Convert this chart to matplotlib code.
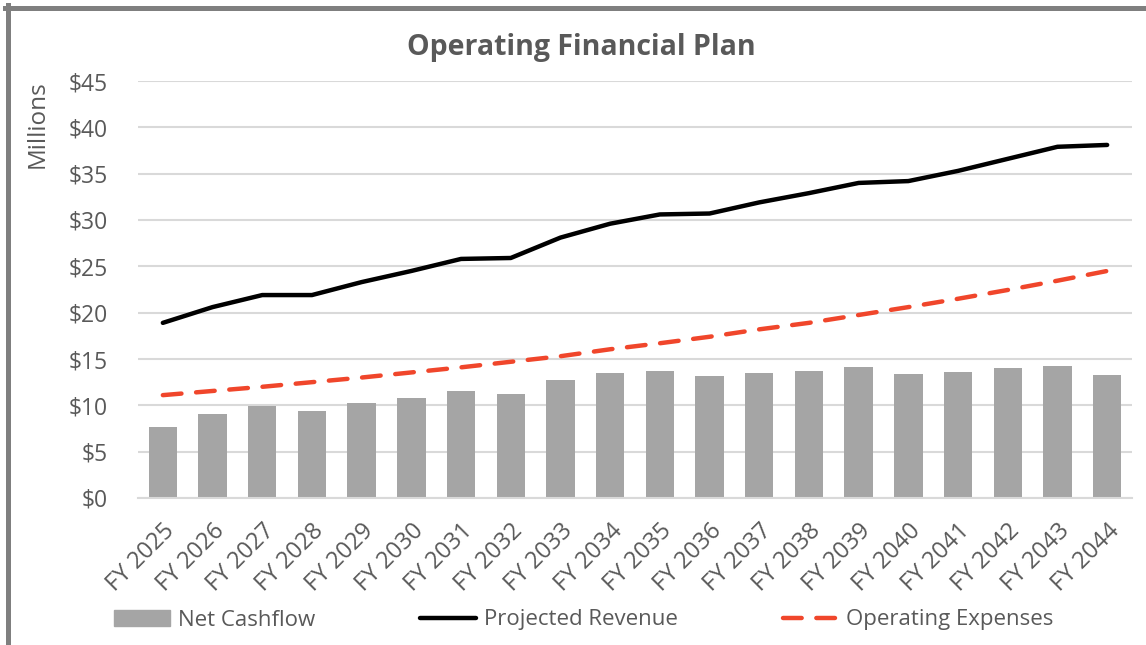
import matplotlib
matplotlib.use("Agg")
import matplotlib.pyplot as plt
from matplotlib.patches import Rectangle
from matplotlib.lines import Line2D

plt.rcParams['font.family'] = ['Open Sans', 'DejaVu Sans']

categories = ["FY 2025", "FY 2026", "FY 2027", "FY 2028", "FY 2029", "FY 2030", "FY 2031",
              "FY 2032", "FY 2033", "FY 2034", "FY 2035", "FY 2036", "FY 2037", "FY 2038",
              "FY 2039", "FY 2040", "FY 2041", "FY 2042", "FY 2043", "FY 2044"]
net_cashflow = [7.7, 9.1, 9.9, 9.4, 10.2, 10.8, 11.6, 11.2, 12.7, 13.5,
                13.7, 13.2, 13.5, 13.7, 14.1, 13.4, 13.6, 14.0, 14.2, 13.3]
projected_revenue = [18.9, 20.6, 21.9, 21.9, 23.3, 24.5, 25.8, 25.9, 28.1, 29.6,
                     30.6, 30.7, 31.9, 32.9, 34.0, 34.2, 35.3, 36.6, 37.9, 38.1]
operating_expenses = [11.1, 11.55, 12.0, 12.5, 13.0, 13.55, 14.1, 14.7, 15.3, 16.05,
                      16.7, 17.4, 18.2, 18.9, 19.75, 20.6, 21.5, 22.45, 23.45, 24.5]
yticks = [0, 5, 10, 15, 20, 25, 30, 35, 40, 45]
ytick_labels = ["$0", "$5", "$10", "$15", "$20", "$25", "$30", "$35", "$40", "$45"]

TXT = '#595959'
DASH = (4.2, 3.3)
fig = plt.figure(figsize=(11.46, 6.45), dpi=100)
ax = fig.add_axes([138/1146, 1-498/645, (1132-138)/1146, (498-81)/645])

x = list(range(len(categories)))
ax.bar(x, net_cashflow, width=0.57, color='#a5a5a5', zorder=2, label='Net Cashflow')
ax.plot(x, projected_revenue, color='black', lw=3.2, solid_capstyle='round',
        zorder=3, label='Projected Revenue')
ax.plot(x, operating_expenses, color='#f0462b', lw=3.2, dashes=DASH,
        dash_capstyle='round', zorder=3, label='Operating Expenses')

ax.set_xlim(-0.5, len(categories)-0.5)
ax.set_ylim(0, 45)
ax.set_yticks(yticks)
ax.set_yticklabels(ytick_labels)
ax.set_xticks(x)
ax.set_xticklabels(categories, rotation=45, ha='right', rotation_mode='anchor')
ax.tick_params(axis='y', length=0, pad=22, labelsize=16.5, labelcolor=TXT)
ax.tick_params(axis='x', length=0, pad=15, labelsize=17, labelcolor=TXT)
ax.grid(axis='y', color='#d9d9d9', lw=1.5, zorder=0)
ax.set_axisbelow(True)
for s in ['top', 'right', 'left']:
    ax.spines[s].set_visible(False)
ax.spines['bottom'].set_color('#d9d9d9')
ax.spines['bottom'].set_linewidth(1.5)

fig.text(581/1146, 1-47/645, "Operating Financial Plan", ha='center', va='center',
         fontsize=20.5, fontweight='bold', color=TXT)
fig.text(38/1146, 1-124/645, "Millions", rotation=90, ha='center', va='center',
         fontsize=17.5, color=TXT)

handles = [Rectangle((0, 0), 1, 1, color='#a5a5a5'),
           Line2D([], [], color='black', lw=3.2, solid_capstyle='round'),
           Line2D([], [], color='#f0462b', lw=3.2, dashes=DASH, dash_capstyle='round')]
fig.legend(handles, ['Net Cashflow', 'Projected Revenue', 'Operating Expenses'],
           loc='center', bbox_to_anchor=(584/1146, 1-620/645), ncol=3, frameon=False,
           fontsize=16, labelcolor=TXT, handlelength=2.5, handleheight=0.7,
           handletextpad=0.35, columnspacing=4.75)

# outer border (top and left visible)
fig.add_artist(Line2D([7.5/1146, 7.5/1146], [0, 1-5/645], transform=fig.transFigure,
                      color='#7f7f7f', lw=3.6))
fig.add_artist(Line2D([5/1146, 1], [1-7.5/645, 1-7.5/645], transform=fig.transFigure,
                      color='#7f7f7f', lw=3.6))

fig.savefig('out.png', dpi=100)
